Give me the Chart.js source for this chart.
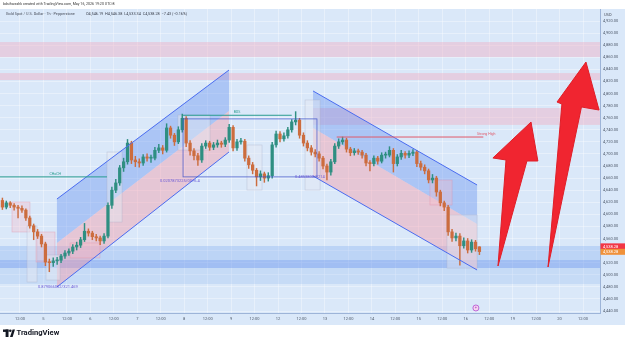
<!DOCTYPE html>
<html>
<head>
<meta charset="utf-8">
<script src="https://cdn.jsdelivr.net/npm/chart.js@4/dist/chart.umd.min.js"></script>
<style>
  html, body { margin: 0; padding: 0; background: #fff; }
  canvas { display: block; }
</style>
</head>
<body>
<canvas id="chart" width="625" height="343"></canvas>
<script>
// time axis labels (one every 12 hours)
const timeLabels = ['12:00','5','12:00','6','12:00','7','12:00','8','12:00','9','12:00','12','12:00','13','12:00','14','12:00','15','12:00','16','12:00','19','12:00','20','12:00']
const priceTicks = [4440,4460,4480,4500,4520,4540,4560,4580,4600,4620,4640,4660,4680,4700,4720,4740,4760,4780,4800,4820,4840,4860,4880,4900,4920]

// XAUUSD candles (2h steps)
const opens = [4623,4612,4619,4615,4612,4610,4607,4594,4581,4571,
  4564,4551,4521,4520,4523,4524,4531,4536,4539,4546,
  4549,4558,4572,4569,4563,4561,4556,4564,4615,4640,
  4652,4677,4687,4718,4690,4687,4685,4695,4693,4693,
  4706,4710,4706,4743,4731,4720,4740,4759,4718,4705,
  4697,4690,4713,4718,4711,4715,4718,4716,4723,4744,
  4710,4720,4721,4693,4682,4673,4662,4667,4660,4664,
  4715,4733,4725,4730,4740,4753,4756,4731,4718,4710,
  4703,4700,4693,4680,4670,4687,4713,4720,4723,4708,
  4702,4705,4703,4698,4685,4684,4693,4688,4698,4698,
  4706,4684,4695,4701,4698,4701,4703,4684,4678,4672,
  4657,4660,4637,4619,4612,4571,4561,4564,4548,4556,
  4541,4554,4546.19]
const highs = [4627,4622,4621,4618,4615,4614,4609,4597,4584,4575,
  4567,4554,4526,4528,4529,4534,4540,4543,4550,4554,
  4562,4585,4576,4572,4567,4564,4568,4619,4645,4658,
  4681,4693,4724,4721,4696,4692,4699,4700,4698,4711,
  4716,4714,4750,4746,4734,4745,4766,4762,4722,4709,
  4701,4717,4722,4721,4719,4723,4721,4727,4749,4747,
  4724,4726,4724,4697,4686,4676,4672,4670,4669,4719,
  4738,4737,4735,4744,4757,4770,4759,4735,4722,4714,
  4707,4704,4696,4683,4691,4717,4725,4728,4726,4711,
  4709,4708,4706,4701,4689,4697,4696,4702,4703,4712,
  4709,4699,4706,4704,4705,4707,4706,4688,4682,4675,
  4666,4663,4640,4622,4615,4575,4569,4568,4561,4560,
  4558,4557,4546.38]
const lows = [4608,4609,4611,4607,4594,4603,4590,4577,4558,4560,
  4546,4515,4505,4514,4517,4520,4527,4532,4535,4541,
  4545,4555,4564,4558,4556,4550,4552,4561,4610,4636,
  4648,4671,4683,4684,4679,4678,4681,4688,4686,4690,
  4702,4700,4703,4726,4714,4717,4736,4712,4698,4690,
  4681,4686,4709,4706,4707,4711,4711,4712,4719,4705,
  4706,4716,4688,4676,4667,4647,4656,4653,4655,4660,
  4711,4720,4721,4726,4736,4748,4726,4713,4705,4698,
  4695,4688,4675,4657,4665,4684,4709,4716,4703,4697,
  4698,4699,4693,4680,4672,4680,4683,4685,4693,4695,
  4670,4680,4691,4693,4694,4697,4679,4673,4667,4652,
  4652,4630,4614,4606,4565,4555,4556,4516,4544,4536,
  4537,4539,4533.34]
const closes = [4612,4619,4615,4612,4610,4607,4594,4581,4571,4564,
  4551,4521,4520,4523,4524,4531,4536,4539,4546,4549,
  4558,4572,4569,4563,4561,4556,4564,4615,4640,4652,
  4677,4687,4718,4690,4687,4685,4695,4693,4693,4706,
  4710,4706,4743,4731,4720,4740,4759,4718,4705,4697,
  4690,4713,4718,4711,4715,4718,4716,4723,4744,4710,
  4720,4721,4693,4682,4673,4662,4667,4660,4664,4715,
  4733,4725,4730,4740,4753,4756,4731,4718,4710,4703,
  4700,4693,4680,4670,4687,4713,4720,4723,4708,4702,
  4705,4703,4698,4685,4684,4693,4688,4698,4698,4706,
  4684,4695,4701,4698,4701,4703,4684,4678,4672,4657,
  4660,4637,4619,4612,4571,4561,4564,4548,4556,4541,
  4554,4543,4538.28]
// hours since May 4 12:00
const candleHours = closes.map((_, i) => -9 + 2 * i)

// drawings, in [hour, price]
const upChannelTop = [[18.9, 4625.4], [106.9, 4838.9]]
const upChannelMid = [[18.9, 4552.6], [106.9, 4771.0]]
const upChannelBot = [[18.9, 4479.8], [106.9, 4703.2]]
const downChannelTop = [[149.9, 4804.2], [233.8, 4648.6]]
const downChannelMid = [[149.9, 4742.9], [233.8, 4584.0]]
const downChannelBot = [[149.9, 4663.5], [233.8, 4507.9]]
const arrowLeft = [[244.5, 4514.5], [259.3, 4688.3], [264.9, 4688.3], [261.4, 4752.8], [241.9, 4693.3], [248.6, 4690.0]]
const arrowRight = [[270.1, 4512.9], [287.2, 4777.7], [296.2, 4772.7], [289.5, 4852.1], [274.7, 4785.9], [277.2, 4782.6]]

// zones: [fromHour, toHour, topPrice, bottomPrice, colour]
const zones = [
  [-10.3, 296.7, 4885.2, 4860.4, 'rgba(240,175,195,0.45)'],
  [-10.3, 296.7, 4833.9, 4822.3, 'rgba(240,175,195,0.45)'],
  [149.9, 296.7, 4776.0, 4748.0, 'rgba(240,175,195,0.45)'],
  [-10.3, 296.7, 4547.6, 4524.4, 'rgba(120,165,240,0.30)'],
  [-10.3, 296.7, 4524.4, 4511.2, 'rgba(90,140,235,0.45)'],
  [-10.3, 296.7, 4511.2, 4484.7, 'rgba(140,180,240,0.25)']
]
// small boxes: [fromHour, toHour, topPrice, bottomPrice, kind]
const boxes = [
  [-4.1, 5.1, 4620.4, 4570.8, 'pink'],
  [3.6, 8.7, 4580.7, 4488.0, 'gray'],
  [8.2, 17.9, 4570.8, 4521.1, 'pink'],
  [13.3, 20.5, 4532.7, 4491.3, 'gray'],
  [25.6, 40.9, 4552.6, 4527.8, 'pink'],
  [44.5, 52.2, 4703.2, 4587.3, 'gray'],
  [80.8, 97.2, 4764.4, 4706.5, 'gray'],
  [116.1, 123.8, 4714.8, 4640.3, 'gray'],
  [145.8, 153.5, 4789.3, 4640.3, 'gray'],
  [209.7, 221.0, 4656.8, 4615.5, 'pink'],
  [218.4, 233.8, 4599.0, 4511.0, 'gray']
]
// lines: [fromHour, toHour, price, colour, label, labelHour]
const levels = [
  [-10.3, 44.5, 4662, '#2a9d8f', 'CHoCH', 18],
  [83.4, 139.0, 4764, '#2a9d8f', 'BOS', 111],
  [162.0, 237.0, 4728, '#e05a6a', 'Strong High', 238.5]
]
const rangeBox = [83.4, 151.9, 4758, 4662]
const notes = [
  [9.2, 4479.8, '0.879066002/321.469'],
  [71.6, 4655, '0.0207873225/0076.4'],
  [140.7, 4662, '0.4853800/3214']
]

const bull = '#2f8f82'
const bear = '#cc6d3f'
const candleColours = closes.map((c, i) => c >= opens[i] ? bull : bear)

const X = (chart, h) => chart.scales.x.getPixelForValue(h)
const Y = (chart, p) => chart.scales.y.getPixelForValue(p)

const poly = (chart, pts, fill, stroke) => {
  const ctx = chart.ctx
  ctx.beginPath()
  pts.forEach(([h, p], i) => i ? ctx.lineTo(X(chart, h), Y(chart, p)) : ctx.moveTo(X(chart, h), Y(chart, p)))
  ctx.closePath()
  if (fill) { ctx.fillStyle = fill; ctx.fill() }
  if (stroke) { ctx.strokeStyle = stroke; ctx.lineWidth = 1; ctx.stroke() }
}
const seg = (chart, a, b, colour) => {
  const ctx = chart.ctx
  ctx.beginPath()
  ctx.moveTo(X(chart, a[0]), Y(chart, a[1]))
  ctx.lineTo(X(chart, b[0]), Y(chart, b[1]))
  ctx.strokeStyle = colour
  ctx.lineWidth = 1
  ctx.stroke()
}

const backdrop = {
  id: 'backdrop',
  beforeDraw(chart) {
    const ctx = chart.ctx
    ctx.save()
    ctx.fillStyle = '#ffffff'
    ctx.fillRect(0, 0, chart.width, chart.height)
    ctx.fillStyle = '#dae8f9'
    ctx.fillRect(0, chart.chartArea.top, chart.width, chart.scales.x.bottom - chart.chartArea.top)
    ctx.restore()
  },
  beforeDatasetsDraw(chart) {
    const ctx = chart.ctx
    const a = chart.chartArea
    ctx.save()
    ctx.beginPath()
    ctx.rect(a.left, a.top, a.right - a.left, a.bottom - a.top)
    ctx.clip()
    zones.forEach(([h1, h2, p1, p2, c]) => {
      ctx.fillStyle = c
      ctx.fillRect(X(chart, h1), Y(chart, p1), X(chart, h2) - X(chart, h1), Y(chart, p2) - Y(chart, p1))
    })
    poly(chart, [upChannelTop[0], upChannelTop[1], upChannelMid[1], upChannelMid[0]], 'rgba(95,140,240,0.38)')
    poly(chart, [upChannelMid[0], upChannelMid[1], upChannelBot[1], upChannelBot[0]], 'rgba(245,150,165,0.42)')
    poly(chart, [downChannelTop[0], downChannelTop[1], downChannelMid[1], downChannelMid[0]], 'rgba(95,140,240,0.38)')
    poly(chart, [downChannelMid[0], downChannelMid[1], downChannelBot[1], downChannelBot[0]], 'rgba(245,150,165,0.42)')
    boxes.forEach(([h1, h2, p1, p2, kind]) => {
      ctx.fillStyle = kind === 'pink' ? 'rgba(245,185,200,0.35)' : 'rgba(228,232,242,0.45)'
      ctx.strokeStyle = kind === 'pink' ? 'rgba(225,140,165,0.55)' : 'rgba(170,175,200,0.55)'
      ctx.lineWidth = 0.6
      const x = X(chart, h1), y = Y(chart, p1), w = X(chart, h2) - x, hgt = Y(chart, p2) - y
      ctx.fillRect(x, y, w, hgt)
      ctx.strokeRect(x, y, w, hgt)
    })
    ctx.restore()
  },
  afterDatasetsDraw(chart) {
    const ctx = chart.ctx
    const a = chart.chartArea
    ctx.save()
    // channel borders
    seg(chart, upChannelTop[0], upChannelTop[1], '#4a6cf0')
    seg(chart, upChannelBot[0], upChannelBot[1], '#4a6cf0')
    seg(chart, downChannelTop[0], downChannelTop[1], '#4a6cf0')
    seg(chart, downChannelBot[0], downChannelBot[1], '#4a6cf0')
    // structure range
    ctx.strokeStyle = 'rgba(60,80,200,0.85)'
    ctx.lineWidth = 0.8
    ctx.strokeRect(X(chart, rangeBox[0]), Y(chart, rangeBox[2]), X(chart, rangeBox[1]) - X(chart, rangeBox[0]), Y(chart, rangeBox[3]) - Y(chart, rangeBox[2]))
    // levels
    ctx.font = '3.5px Roboto'
    ctx.textAlign = 'center'
    ctx.textBaseline = 'bottom'
    levels.forEach(([h1, h2, p, c, label, lh]) => {
      seg(chart, [h1, p], [h2, p], c)
      ctx.fillStyle = c
      ctx.fillText(label, X(chart, lh), Y(chart, p) - 1.5)
    })
    ctx.textAlign = 'left'
    ctx.fillStyle = '#6b5bd6'
    ctx.font = '4px Roboto'
    notes.forEach(([h, p, t]) => ctx.fillText(t, X(chart, h), Y(chart, p) + 2))
    // arrows
    poly(chart, arrowLeft, '#f02530', '#e01e28')
    poly(chart, arrowRight, '#f02530', '#e01e28')
    // marker on the time line
    const mx = X(chart, 233.2), my = Y(chart, 4445)
    ctx.beginPath()
    ctx.arc(mx, my, 3, 0, Math.PI * 2)
    ctx.fillStyle = '#f7d7ee'
    ctx.fill()
    ctx.strokeStyle = '#b04ad0'
    ctx.lineWidth = 0.8
    ctx.stroke()
    ctx.fillStyle = '#b04ad0'
    ctx.font = 'bold 4px Roboto'
    ctx.textAlign = 'center'
    ctx.textBaseline = 'middle'
    ctx.fillText('+', mx, my)
    // price labels on the axis
    const tag = (p, bg, txt) => {
      const y = Y(chart, p)
      ctx.fillStyle = bg
      ctx.fillRect(a.right + 0.5, y - 3, 24.5, 6)
      ctx.fillStyle = '#ffffff'
      ctx.font = '4px Roboto'
      ctx.textAlign = 'left'
      ctx.fillText(txt, a.right + 3, y + 0.3)
    }
    tag(4547, '#f23645', '4,538.28')
    tag(4538, '#f0913a', '4,538.28')
    ctx.fillStyle = '#4a4f5c'
    ctx.font = '4px Roboto'
    ctx.textAlign = 'left'
    ctx.fillText('USD', a.right + 4, a.top + 6)
    // headers
    ctx.textBaseline = 'middle'
    ctx.fillStyle = '#333'
    ctx.font = '3.6px Roboto'
    ctx.fillText('bdsihwashk created with TradingView.com, May 16, 2026 19:20 UTC-8', 3, 4.5)
    ctx.fillStyle = '#4a4f5c'
    ctx.font = '3.8px Roboto'
    ctx.fillText('Gold Spot / U.S. Dollar · 1h · Pepperstone', 6, 14)
    ctx.fillStyle = '#3a3f4c'
    ctx.fillText('O4,546.19  H4,546.38  L4,533.34  C4,538.28  \u22127.43 (\u22120.16%)', 86, 14)
    // logo
    ctx.fillStyle = '#131722'
    ctx.fillRect(3, 329.5, 5.5, 2.4)
    ctx.fillRect(5.6, 329.5, 2.9, 7.5)
    ctx.beginPath()
    ctx.arc(10.3, 330.8, 1.3, 0, Math.PI * 2)
    ctx.fill()
    ctx.beginPath()
    ctx.moveTo(10, 337); ctx.lineTo(12.6, 329.5); ctx.lineTo(15, 329.5); ctx.lineTo(12.6, 337)
    ctx.closePath()
    ctx.fill()
    ctx.font = 'bold 7.6px Roboto'
    ctx.textBaseline = 'middle'
    ctx.fillText('TradingView', 16.5, 333.5)
    ctx.restore()
  }
}

new Chart(document.getElementById('chart'), {
  type: 'bar',
  data: {
    datasets: [
      {
        label: 'wicks',
        data: candleHours.map((h, i) => ({ x: h, y: [lows[i], highs[i]] })),
        backgroundColor: candleColours,
        barThickness: 0.8,
        grouped: false
      },
      {
        label: 'bodies',
        data: candleHours.map((h, i) => ({ x: h, y: [opens[i], closes[i]] })),
        backgroundColor: candleColours,
        barThickness: 2.6,
        minBarLength: 1,
        grouped: false
      }
    ]
  },
  options: {
    responsive: false,
    animation: false,
    events: [],
    layout: { padding: { top: 9, bottom: 18, left: 0, right: 0 } },
    plugins: { legend: { display: false }, tooltip: { enabled: false } },
    scales: {
      x: {
        type: 'linear',
        min: -10.23,
        max: 296.68,
        offset: false,
        grid: { color: 'rgba(255,255,255,0.35)', drawTicks: false, offset: false },
        border: { color: '#9db4d8' },
        ticks: {
          padding: 4,
          maxRotation: 0,
          autoSkip: false,
          color: '#4f5a6b',
          font: { family: 'Roboto', size: 4 },
          callback: (v) => timeLabels[Math.round(v / 12)]
        },
        afterBuildTicks: (s) => { s.ticks = timeLabels.map((_, i) => ({ value: i * 12 })) },
        afterFit: (s) => { s.height = 12 }
      },
      y: {
        type: 'linear',
        position: 'right',
        min: 4436.7,
        max: 4939.9,
        grid: { color: 'rgba(255,255,255,0.35)', drawTicks: false },
        border: { color: '#9db4d8' },
        ticks: {
          padding: 3,
          color: '#4f5a6b',
          font: { family: 'Roboto', size: 4 },
          callback: (v) => v.toLocaleString('en-US', { minimumFractionDigits: 2, maximumFractionDigits: 2 })
        },
        afterBuildTicks: (s) => { s.ticks = priceTicks.map(v => ({ value: v })) },
        afterFit: (s) => { s.width = 25 }
      }
    }
  },
  plugins: [backdrop]
})
</script>
</body>
</html>
